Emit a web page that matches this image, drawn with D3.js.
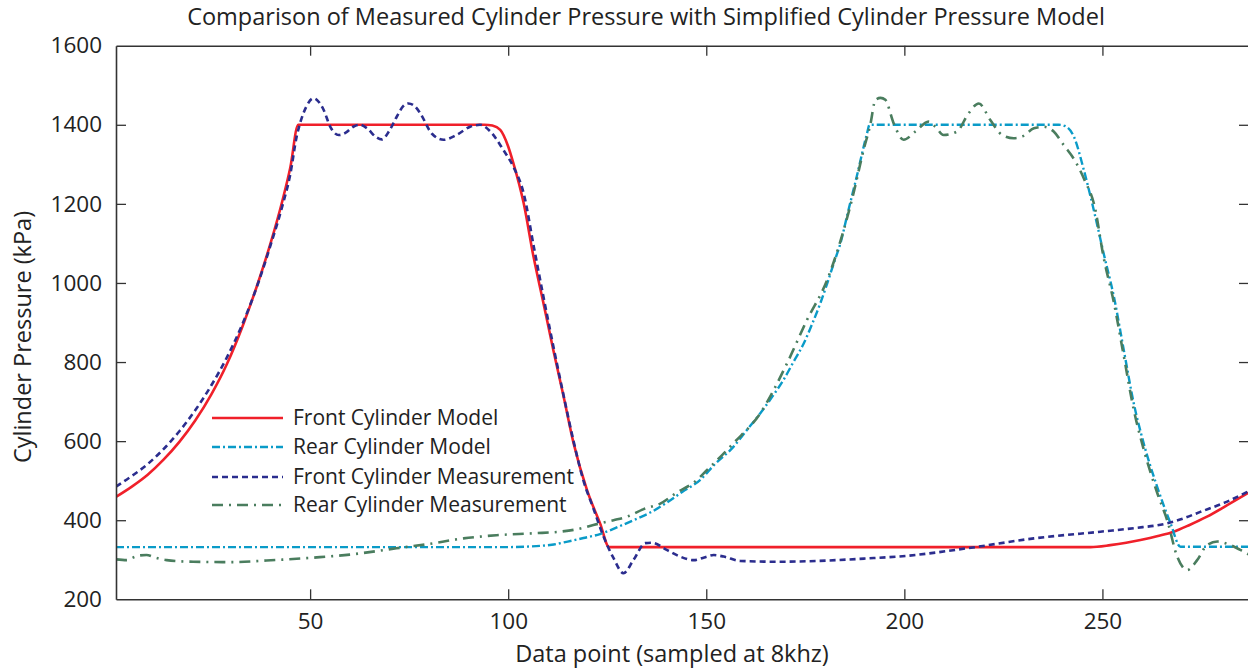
<!DOCTYPE html>
<html><head><meta charset="utf-8">
<script src="https://cdn.jsdelivr.net/npm/d3@7"></script>
<style>
html,body{margin:0;padding:0;background:#fff;overflow:hidden}
text{font-family:"Open Sans",sans-serif;fill:#222}
</style></head>
<body><svg id="c" width="1248" height="669"></svg>
<script>
// ---------- data (x = data point, y = pressure kPa) ----------
const title = "Comparison of Measured Cylinder Pressure with Simplified Cylinder Pressure Model";
const xLabel = "Data point (sampled at 8khz)";
const yLabel = "Cylinder Pressure (kPa)";
const xTicks = [50, 100, 150, 200, 250];
const yTicks = [200, 400, 600, 800, 1000, 1200, 1400, 1600];
const seriesNames = ["Front Cylinder Model", "Rear Cylinder Model", "Front Cylinder Measurement", "Rear Cylinder Measurement"];

const frontModel = [[1,459],[5,485],[9,515],[13,553],[17,598],[21,652],[25,717],[29,795],[33,892],[37,1005],[40,1100],[43,1208],[45,1292],[47,1400],[60,1400],[80,1400],[94,1400],[96,1398],[98,1387],[100,1345],[101.3,1303],[103.9,1202],[106.4,1066],[108.9,949],[111.4,830],[114,712],[116.5,595],[119.9,476],[123.2,392],[125.5,332],[140,332],[200,332],[247,332],[252,337],[256,343],[259.6,350],[264,360],[268,371],[272,388],[276.4,409],[281.5,438],[287,470]];

const rearModel = [[1,332],[50,332],[100,332],[104,333],[108,335],[111,338],[115,346],[119,355],[123.2,365],[127,380],[131.6,400],[136,420],[140.1,445],[144,472],[148.5,502],[152,540],[156.9,586],[160,625],[163.6,670],[166.5,710],[169.5,755],[172,800],[174.6,847],[176.8,898],[178.8,949],[180.5,998],[182.2,1050],[184,1105],[185.5,1168],[188,1270],[190.6,1379],[191.2,1400],[239,1400],[240.5,1397],[242.8,1370],[245.3,1286],[247.8,1185],[250.3,1075],[252.9,965],[255.4,830],[257.9,696],[260.4,595],[263.8,485],[267.2,392],[269.7,333],[287,333]];

const frontMeas = [[1,485],[5,512],[9,542],[13,580],[17,625],[21,678],[25,740],[29,812],[33,898],[37,1003],[40,1095],[43,1195],[45,1275],[46.6,1370],[47.5,1405],[49,1445],[50.8,1467],[52,1460],[53.4,1438],[55.1,1395],[57.2,1374],[59,1380],[60.9,1395],[62.5,1400],[64.5,1390],[66.5,1370],[68.1,1363],[70,1385],[71.9,1421],[73.5,1447],[74.8,1454],[76.3,1448],[77.8,1429],[80.7,1378],[83.7,1362],[86.9,1374],[90.4,1395],[92.9,1400],[95.5,1383],[98.8,1336],[101.3,1294],[103.9,1227],[106.5,1090],[109,960],[111.5,835],[114,715],[116.5,600],[119,500],[121.5,430],[124.1,358],[126.6,304],[129.1,266],[131.6,299],[134.6,342],[136.3,343],[140,325],[143.4,308],[146.8,299],[149.5,306],[151.9,312],[154.4,308],[158.6,297],[167.8,295],[180.5,298],[190,303],[200.7,310],[215.8,329],[232.7,354],[249.5,371],[258,380],[266.3,392],[270,403],[274.7,421],[281,445],[287,474]];

const rearMeas = [[1,301],[3.7,299],[5.4,306],[7,311],[8.7,312],[11,305],[13.8,299],[20.5,295],[30.6,294],[39,298],[51.7,306],[60,313],[71.8,329],[80,340],[88.7,354],[97,362],[106.4,367],[113.1,371],[117.3,377],[121.5,388],[126.6,400],[130,409],[134.2,428],[138.4,442],[142.6,470],[146.8,495],[150.2,527],[156.9,595],[163.6,670],[170.4,797],[175.4,906],[180.5,1007],[184.7,1134],[187,1220],[189.7,1336],[191.4,1400],[192.7,1463],[194,1468],[195.2,1463],[197.3,1404],[199.8,1362],[202.8,1383],[206.1,1408],[208,1393],[209.9,1374],[213.3,1383],[216.2,1429],[218.8,1454],[221.7,1412],[224.7,1374],[227.6,1366],[229.7,1370],[232.7,1391],[235.2,1395],[237.7,1383],[240.2,1349],[243.2,1307],[245.5,1260],[248,1195],[250.3,1065],[252.9,950],[255.4,815],[257.9,680],[260.4,580],[263.8,470],[266.5,395],[268.8,310],[271.4,274],[273.9,299],[276.4,337],[279,346],[282.3,337],[285.7,320],[287,313]];

// ---------- layout ----------
const L = 116, R = 1249, T = 45.7, B = 599.3;
const x = d3.scaleLinear().domain([1, 287]).range([L, R]);
const y = d3.scaleLinear().domain([200, 1600]).range([B, T]);

const svg = d3.select("#c");
const styles = [
  {name: seriesNames[0], data: frontModel, color: "#f0202a", width: 2.6, dash: null},
  {name: seriesNames[1], data: rearModel,  color: "#0a9bc8", width: 2.4, dash: "8,3,2,3"},
  {name: seriesNames[2], data: frontMeas,  color: "#2b2d8e", width: 2.6, dash: "6,4"},
  {name: seriesNames[3], data: rearMeas,   color: "#4a7d5e", width: 2.6, dash: "11,6,2,6"}
];

svg.append("clipPath").attr("id","clip").append("rect")
  .attr("x", L).attr("y", T).attr("width", R - L).attr("height", B - T);

const line = d3.line().x(d => x(d[0])).y(d => y(d[1])).curve(d3.curveMonotoneX);
const g = svg.append("g").attr("clip-path", "url(#clip)");
styles.forEach(s => {
  g.append("path").attr("d", line(s.data)).attr("fill","none")
    .attr("stroke", s.color).attr("stroke-width", s.width)
    .attr("stroke-dasharray", s.dash).attr("stroke-linejoin","round");
});

// ---------- axes ----------
const axCol = "#333";
const tickLen = 10;
const axB = svg.append("g").attr("transform", `translate(0,${B})`)
  .call(d3.axisBottom(x).tickValues(xTicks).tickSizeInner(-tickLen).tickSizeOuter(0).tickPadding(14).tickFormat(d3.format("d")));
const axT = svg.append("g").attr("transform", `translate(0,${T})`)
  .call(d3.axisTop(x).tickValues(xTicks).tickSizeInner(-tickLen).tickSizeOuter(0).tickFormat(""));
const axL = svg.append("g").attr("transform", `translate(${L},0)`)
  .call(d3.axisLeft(y).tickValues(yTicks).tickSizeInner(-tickLen).tickSizeOuter(0).tickPadding(14).tickFormat(d3.format("d")));
const axR = svg.append("g").attr("transform", `translate(${R},0)`)
  .call(d3.axisRight(y).tickValues(yTicks).tickSizeInner(-tickLen).tickSizeOuter(0).tickFormat(""));
[axB, axT, axL, axR].forEach(a => {
  a.select(".domain").attr("stroke", axCol).attr("stroke-width", 1.6);
  a.selectAll(".tick line").attr("stroke", axCol).attr("stroke-width", 1.3);
  a.selectAll(".tick text").attr("fill", "#222").style("font-size", "22.5px")
    .style("font-family", '"Open Sans",sans-serif');
});
axL.selectAll(".tick").filter(d => d === 200 || d === 1600).select("line").remove();
axR.selectAll(".tick").filter(d => d === 200 || d === 1600).select("line").remove();

// ---------- titles ----------
svg.append("text").attr("x", 646).attr("y", 25).attr("text-anchor","middle")
  .style("font-size","23.5px").text(title);
svg.append("text").attr("x", 672).attr("y", 662).attr("text-anchor","middle")
  .style("font-size","23.5px").text(xLabel);
svg.append("text").attr("transform", "translate(31,337) rotate(-90)").attr("text-anchor","middle")
  .style("font-size","23.5px").text(yLabel);

// ---------- legend ----------
const leg = svg.append("g");
const legY = [418, 447, 477, 505];
styles.forEach((s, i) => {
  leg.append("line").attr("x1", 212).attr("x2", 283).attr("y1", legY[i]).attr("y2", legY[i])
    .attr("stroke", s.color).attr("stroke-width", s.width).attr("stroke-dasharray", s.dash);
  leg.append("text").attr("x", 293).attr("y", legY[i]).attr("dy", "0.35em")
    .style("font-size", "21px").text(s.name);
});
</script></body></html>
